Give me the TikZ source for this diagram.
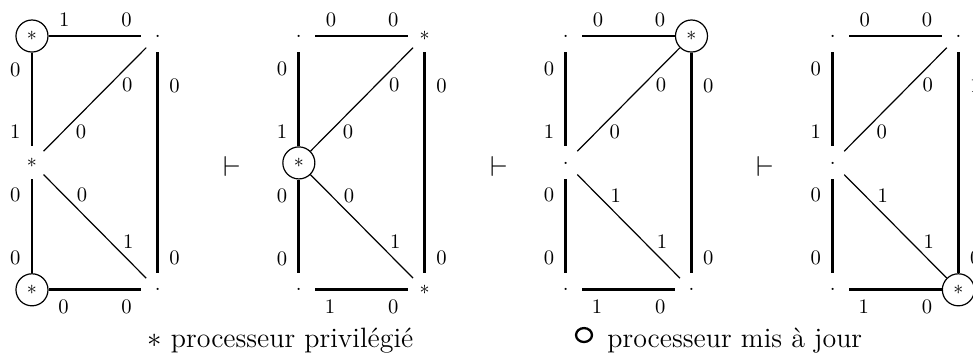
\documentclass[tikz,border=0pt]{standalone}
\usepackage{tikz}
\usetikzlibrary{positioning,calc,shapes.geometric}
\tikzset{
  proc/.style={circle, minimum size=0.563cm, inner sep=0pt},
  procmaj/.style={proc, draw, line width=0.6pt},
  arete/.style={line width=1.4pt},
  diago/.style={line width=0.6pt},
  haut/.style={above=0.6pt},
  bas/.style={below=0.9pt},
  gauche/.style={left=1.8pt},
  droite/.style={right=1.8pt},
  penche/.style={right=2.8pt},
  deduit/.style={font=\fontsize{15.5}{15.5}\selectfont},
  legende/.style={anchor=base west, inner sep=0pt, font=\fontsize{14}{16}\selectfont},
}

\begin{document}
\begin{tikzpicture}[font=\fontsize{10.3}{12}\selectfont]
  \useasboundingbox (-0.562,0.633) rectangle (16.537,-5.571);
  % premier graphe
  \begin{scope}
    \node[procmaj] (a1) at (0,0) {$*$};
    \node[proc] (b1) at (2.21,0) {.};
    \node[proc] (c1) at (0,-2.23) {$*$};
    \node[procmaj] (d1) at (0,-4.46) {$*$};
    \node[proc] (e1) at (2.21,-4.46) {.};
    \draw[arete] (a1) -- node[haut,pos=.17] {1} node[haut,pos=.84] {0} (b1);
    \draw[arete] (a1) -- node[gauche,pos=.18] {0} node[gauche,pos=.84] {1} (c1);
    \draw[arete] (b1) -- node[droite,pos=.15] {0} node[droite,pos=.93] {0} (e1);
    \draw[diago] (b1) -- node[penche,pos=.36] {0} node[penche,pos=.81] {0} (c1);
    \draw[arete] (c1) -- node[gauche,pos=.17] {0} node[gauche,pos=.84] {0} (d1);
    \draw[diago] (c1) -- node[penche,pos=.2] {0} node[penche,pos=.65] {1} (e1);
    \draw[arete] (d1) -- node[bas,pos=.16] {0} node[bas,pos=.84] {0} (e1);
  \end{scope}
  \node[deduit] (t1) at (3.515,-2.285) {$\vdash$};
  % deuxieme graphe
  \begin{scope}[xshift=4.69cm]
    \node[proc] (a2) at (0,0) {.};
    \node[proc] (b2) at (2.21,0) {$*$};
    \node[procmaj] (c2) at (0,-2.23) {$*$};
    \node[proc] (d2) at (0,-4.46) {.};
    \node[proc] (e2) at (2.21,-4.46) {$*$};
    \draw[arete] (a2) -- node[haut,pos=.17] {0} node[haut,pos=.84] {0} (b2);
    \draw[arete] (a2) -- node[gauche,pos=.18] {0} node[gauche,pos=.84] {1} (c2);
    \draw[arete] (b2) -- node[droite,pos=.15] {0} node[droite,pos=.93] {0} (e2);
    \draw[diago] (b2) -- node[penche,pos=.36] {0} node[penche,pos=.81] {0} (c2);
    \draw[arete] (c2) -- node[gauche,pos=.17] {0} node[gauche,pos=.84] {0} (d2);
    \draw[diago] (c2) -- node[penche,pos=.2] {0} node[penche,pos=.65] {1} (e2);
    \draw[arete] (d2) -- node[bas,pos=.16] {1} node[bas,pos=.84] {0} (e2);
  \end{scope}
  \node[deduit] (t2) at (8.205,-2.285) {$\vdash$};
  % troisieme graphe
  \begin{scope}[xshift=9.38cm]
    \node[proc] (a3) at (0,0) {.};
    \node[procmaj] (b3) at (2.21,0) {$*$};
    \node[proc] (c3) at (0,-2.23) {.};
    \node[proc] (d3) at (0,-4.46) {.};
    \node[proc] (e3) at (2.21,-4.46) {.};
    \draw[arete] (a3) -- node[haut,pos=.17] {0} node[haut,pos=.84] {0} (b3);
    \draw[arete] (a3) -- node[gauche,pos=.18] {0} node[gauche,pos=.84] {1} (c3);
    \draw[arete] (b3) -- node[droite,pos=.15] {0} node[droite,pos=.93] {0} (e3);
    \draw[diago] (b3) -- node[penche,pos=.36] {0} node[penche,pos=.81] {0} (c3);
    \draw[arete] (c3) -- node[gauche,pos=.17] {0} node[gauche,pos=.84] {0} (d3);
    \draw[diago] (c3) -- node[penche,pos=.2] {1} node[penche,pos=.65] {1} (e3);
    \draw[arete] (d3) -- node[bas,pos=.16] {1} node[bas,pos=.84] {0} (e3);
  \end{scope}
  \node[deduit] (t3) at (12.895,-2.285) {$\vdash$};
  % quatrieme graphe
  \begin{scope}[xshift=14.07cm]
    \node[proc] (a4) at (0,0) {.};
    \node[proc] (b4) at (2.21,0) {.};
    \node[proc] (c4) at (0,-2.23) {.};
    \node[proc] (d4) at (0,-4.46) {.};
    \node[procmaj] (e4) at (2.21,-4.46) {$*$};
    \draw[arete] (a4) -- node[haut,pos=.17] {0} node[haut,pos=.84] {0} (b4);
    \draw[arete] (a4) -- node[gauche,pos=.18] {0} node[gauche,pos=.84] {1} (c4);
    \draw[arete] (b4) -- node[droite,pos=.15] {1} node[droite,pos=.93] {0} (e4);
    \draw[diago] (b4) -- node[penche,pos=.36] {0} node[penche,pos=.81] {0} (c4);
    \draw[arete] (c4) -- node[gauche,pos=.17] {0} node[gauche,pos=.84] {0} (d4);
    \draw[diago] (c4) -- node[penche,pos=.2] {1} node[penche,pos=.65] {1} (e4);
    \draw[arete] (d4) -- node[bas,pos=.16] {1} node[bas,pos=.84] {0} (e4);
  \end{scope}
  % legende
  \node[legende] (lpriv) at (2.021,-5.466) {$*$ processeur privilégié};
  \node[ellipse, draw, line width=1.15pt, minimum width=0.28cm, minimum height=0.245cm, inner sep=0pt] (lrond) at (9.701,-5.255) {};
  \node[legende] (lmaj) at (10.105,-5.466) {processeur mis à jour};
\end{tikzpicture}
\end{document}
